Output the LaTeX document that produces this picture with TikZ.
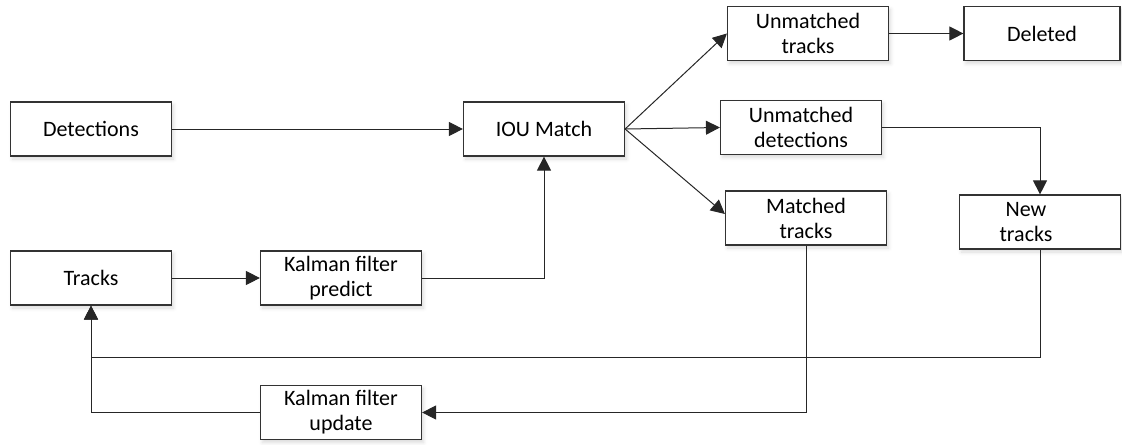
\documentclass[tikz,border=0pt]{standalone}
\usepackage{fontspec}
\setmainfont{Carlito}
\usetikzlibrary{arrows.meta,positioning,shadows.blur}
\tikzset
{
	boxnode/.style = {rectangle, draw=black!80, line width=0.6pt, fill=white, align=center, minimum width=80.5pt, minimum height=27pt, inner sep=1pt, font=\fontsize{11}{12.5}\selectfont, blur shadow={shadow xshift=1pt, shadow yshift=-1.5pt, shadow blur steps=4, shadow opacity=15}},
	flowline/.style = {draw=black!85, line width=0.5pt, -{Triangle[length=7pt,width=7pt]}},
	plainline/.style = {draw=black!85, line width=0.5pt}
}

\begin{document}
\begin{tikzpicture}[x=0.5pt, y=-0.5pt]
\useasboundingbox (0,0) rectangle (1122,444);
% left column
\node[boxnode] (det) at (91,129) {Detections};
\node[boxnode] (trk) at (91,278) {Tracks};
\node[boxnode] (kfp) at (341,278) {Kalman filter\\predict};
\node[boxnode] (kfu) at (341,412.5) {Kalman filter\\update};
\node[boxnode] (iou) at (544,129) {IOU Match};
% outcomes of the match
\node[boxnode] (utr) at (808,33.5) {Unmatched\\tracks};
\node[boxnode, minimum width=78pt] (del) at (1042,33.5) {Deleted};
\node[boxnode] (udet) at (801,127.5) {Unmatched\\detections};
\node[boxnode] (mtr) at (806,218) {Matched\\tracks};
\node[boxnode] (ntr) at (1040,222) {New\kern14pt\\tracks\kern14pt};
\coordinate (join) at (91,357);

\draw[flowline] (det) -- (iou);
\draw[flowline] (trk) -- (kfp);
\draw[flowline] (kfp.east) -| (iou.south);
\draw[flowline] (iou.east) -- (utr.west);
\draw[flowline] (iou.east) -- (udet.west);
\draw[flowline] (iou.east) -- ([yshift=2pt]mtr.west);
\draw[flowline] (utr) -- (del);
\draw[flowline] (udet.east) -| (ntr.north);
\draw[flowline] (mtr.south) |- (kfu.east);
\draw[flowline] (kfu.west) -| (trk.south);
\draw[flowline] (ntr.south) |- (join) -- (trk.south);
\end{tikzpicture}
\end{document}
